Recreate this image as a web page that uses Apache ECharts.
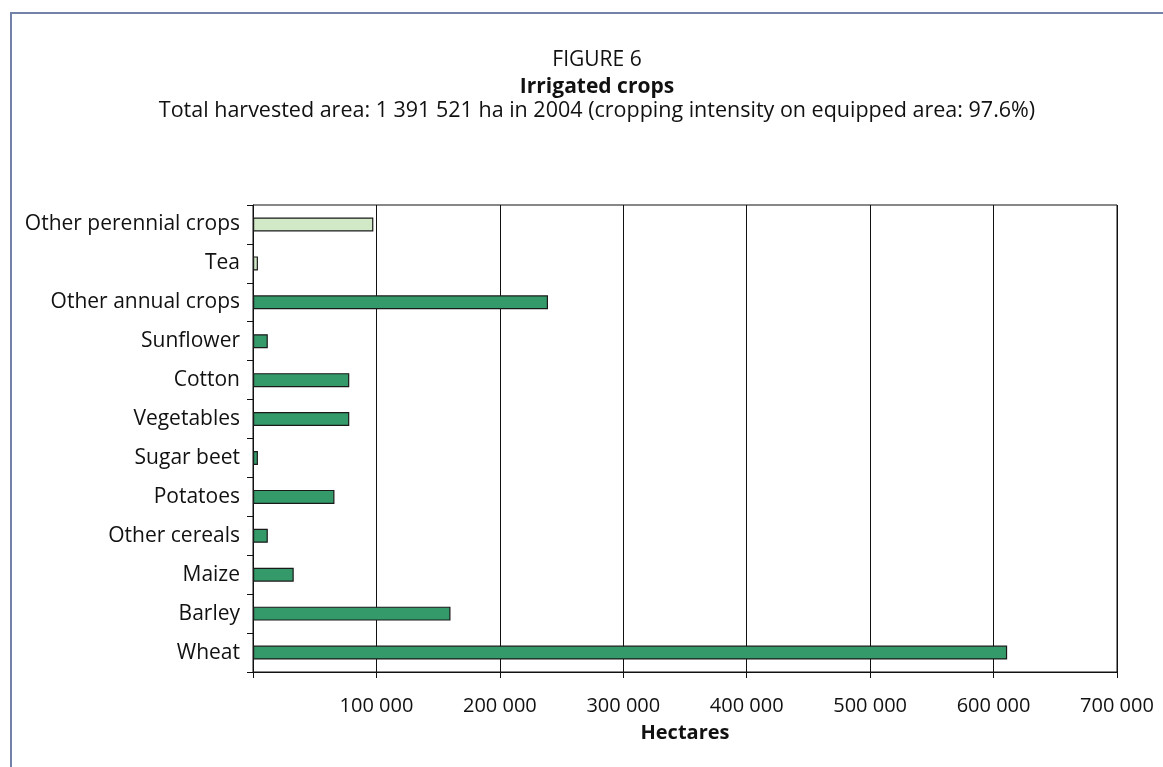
<!DOCTYPE html>
<html>
<head>
<meta charset="utf-8">
<script src="https://cdn.jsdelivr.net/npm/echarts@6/dist/echarts.min.js"></script>
<style>
  html, body { margin: 0; padding: 0; background: #fff; }
  #frame { position: absolute; left: 10px; top: 12px; width: 1163px; height: 767px;
           border-top: 2px solid #7482aa; border-left: 2px solid #7482aa; }
  #chart { position: absolute; left: 0; top: 0; width: 1163px; height: 767px; }
</style>
</head>
<body>
<div id="frame"></div>
<div id="chart"></div>
<script>
// Crops listed bottom to top, as they appear on the category axis
const crops = ['Wheat', 'Barley', 'Maize', 'Other cereals', 'Potatoes', 'Sugar beet',
  'Vegetables', 'Cotton', 'Sunflower', 'Other annual crops', 'Tea', 'Other perennial crops'];
// Irrigated harvested area in hectares, 2004
const hectares = [611000, 160000, 33000, 12000, 66000, 4000,
  78000, 78000, 12000, 239000, 4000, 97500];
// Perennial crops are shaded lighter than annual crops
const perennial = ['Tea', 'Other perennial crops'];
const axisTicks = [0, 100000, 200000, 300000, 400000, 500000, 600000, 700000];

const FONT = '"Open Sans", "Noto Sans", sans-serif';
const annualColor = '#359a69';
const perennialColor = '#d2e9c8';
const TITLE_X = 592;

const fmt = v => v === 0 ? '' : String(v).replace(/\B(?=(\d{3})+(?!\d))/g, ' ');

const chart = echarts.init(document.getElementById('chart'), null, { renderer: 'canvas' });
chart.setOption({
  backgroundColor: 'transparent',
  animation: false,
  textStyle: { fontFamily: FONT },
  title: [
    { text: 'FIGURE 6', left: TITLE_X, textAlign: 'center', top: 45,
      textStyle: { fontFamily: FONT, fontSize: 21, fontWeight: 'normal', color: '#111' } },
    { text: 'Irrigated crops', left: TITLE_X, textAlign: 'center', top: 72,
      textStyle: { fontFamily: FONT, fontSize: 21, fontWeight: 'bold', color: '#111' } },
    { text: 'Total harvested area: 1 391 521 ha in 2004 (cropping intensity on equipped area: 97.6%)',
      left: TITLE_X, textAlign: 'center', top: 95,
      textStyle: { fontFamily: FONT, fontSize: 21.5, fontWeight: 'normal', color: '#111' } }
  ],
  grid: { left: 253, right: 46, top: 205, bottom: 95, show: true,
          borderColor: '#111', borderWidth: 1, backgroundColor: 'transparent' },
  xAxis: {
    type: 'value', min: axisTicks[0], max: axisTicks[axisTicks.length - 1], interval: 100000,
    name: 'Hectares', nameLocation: 'middle', nameGap: 51,
    nameTextStyle: { fontFamily: FONT, fontSize: 20, fontWeight: 'bold', color: '#111' },
    axisLine: { show: true, lineStyle: { color: '#111', width: 1 } },
    axisTick: { show: true, length: 6, inside: false, lineStyle: { color: '#111' } },
    axisLabel: { formatter: fmt, margin: 24, fontFamily: FONT, fontSize: 20, color: '#111' },
    splitLine: { show: true, lineStyle: { color: '#111', width: 1 } }
  },
  yAxis: {
    type: 'category', data: crops,
    axisLine: { show: true, lineStyle: { color: '#111', width: 1 } },
    axisTick: { show: true, length: 6, lineStyle: { color: '#111' } },
    axisLabel: { margin: 13, fontFamily: FONT, fontSize: 21, color: '#111' },
    splitLine: { show: false }
  },
  series: [{
    type: 'bar',
    barWidth: 14,
    data: hectares.map((v, i) => ({
      value: v,
      itemStyle: { color: perennial.includes(crops[i]) ? perennialColor : annualColor }
    })),
    itemStyle: { borderColor: '#1a1a1a', borderWidth: 1.2 }
  }]
});
</script>
</body>
</html>
